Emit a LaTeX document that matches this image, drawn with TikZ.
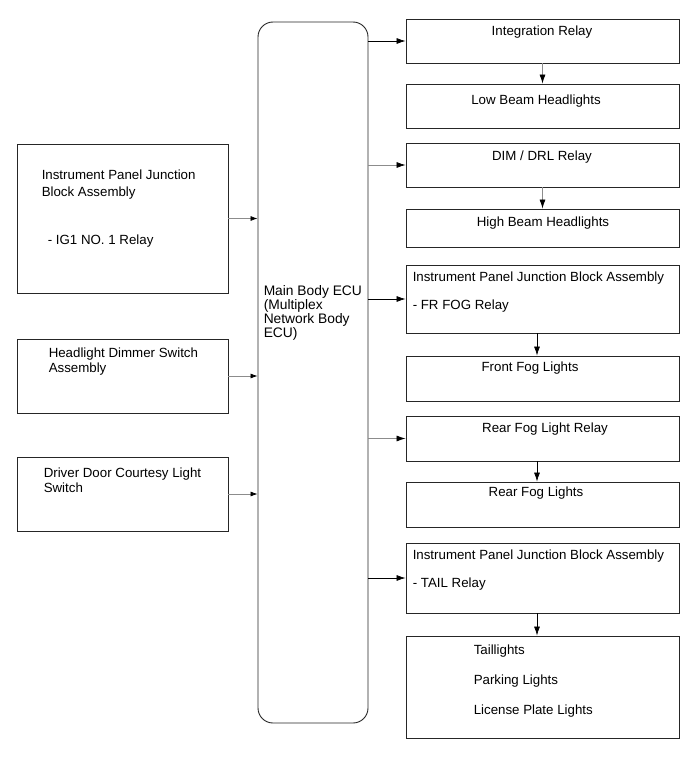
\documentclass[tikz,border=0pt]{standalone}
\usepackage{fontspec}
\setmainfont{Liberation Sans}
\usetikzlibrary{arrows.meta}

\tikzstyle{unit} = [rectangle, draw=black!85, line width=0.9pt, inner sep=0pt]
\tikzstyle{ecu} = [unit, rounded corners=15pt]
\tikzstyle{label} = [inner sep=0pt, align=left, font=\fontsize{13.3}{15}\selectfont]
\tikzstyle{arrow} = [line width=0.7pt, draw=black, -{Latex[length=9pt,width=6pt]}]
\tikzstyle{greyarrow} = [line width=0.7pt, draw=black!45, -{Latex[length=9pt,width=6pt,color=black]}]
\tikzstyle{inarrow} = [line width=0.7pt, draw=black!45, -{Latex[length=7pt,width=5pt,color=black]}]

\begin{document}
\begin{tikzpicture}[x=1pt,y=-1pt]

\useasboundingbox (0,0) rectangle (691,757);

	%Central control unit
	\node[ecu, minimum width=110, minimum height=701](ECU) at (313,372.5) {};

	%Inputs on the left
	\node[unit, minimum width=211, minimum height=149](IPJB) at (122.5,218.5) {};
	\node[unit, minimum width=211, minimum height=74](Dimmer) at (122.5,376) {};
	\node[unit, minimum width=211, minimum height=74](Courtesy) at (122.5,494) {};

	%Outputs on the right
	\node[unit, minimum width=273, minimum height=44](IntRelay) at (542.5,41) {};
	\node[unit, minimum width=273, minimum height=44](LowBeam) at (542.5,106) {};
	\node[unit, minimum width=273, minimum height=44](DimRelay) at (542.5,165) {};
	\node[unit, minimum width=273, minimum height=38](HighBeam) at (542.5,228) {};
	\node[unit, minimum width=273, minimum height=68](FogRelay) at (542.5,299) {};
	\node[unit, minimum width=273, minimum height=45](FrontFog) at (542.5,378.5) {};
	\node[unit, minimum width=273, minimum height=45](RearRelay) at (542.5,438.5) {};
	\node[unit, minimum width=273, minimum height=45](RearFog) at (542.5,504.5) {};
	\node[unit, minimum width=273, minimum height=70](TailRelay) at (542.5,578) {};
	\node[unit, minimum width=273, minimum height=102](Tail) at (542.5,687) {};

	%Texts (base anchor sits on the last line)
	\node[label, anchor=base west, font=\fontsize{13.8}{12.7}\selectfont](ECU_txt) at ([xshift=6,yshift=-316]ECU.north west) {Main Body ECU\\(Multiplex\\Network Body\\ECU)};
	\node[label, anchor=base west, font=\fontsize{13.3}{17}\selectfont](IPJB_txt) at ([xshift=25,yshift=-100.5]IPJB.north west) {Instrument Panel Junction\\Block Assembly\\[31pt]\hspace{6pt}- IG1 NO. 1 Relay};
	\node[label, anchor=base west](Dimmer_txt) at ([xshift=32,yshift=-33.5]Dimmer.north west) {Headlight Dimmer Switch\\Assembly};
	\node[label, anchor=base west](Courtesy_txt) at ([xshift=27,yshift=-35.5]Courtesy.north west) {Driver Door Courtesy Light\\Switch};

	\node[label, anchor=base](IntRelay_txt) at ([xshift=-0.5,yshift=-16.5]IntRelay.north) {Integration Relay};
	\node[label, anchor=base](LowBeam_txt) at ([xshift=-6.5,yshift=-20.5]LowBeam.north) {Low Beam Headlights};
	\node[label, anchor=base](DimRelay_txt) at ([xshift=-0.5,yshift=-17.5]DimRelay.north) {DIM / DRL Relay};
	\node[label, anchor=base](HighBeam_txt) at ([xshift=0.5,yshift=-17.5]HighBeam.north) {High Beam Headlights};
	\node[label, anchor=base west, font=\fontsize{13.3}{28}\selectfont](FogRelay_txt) at ([xshift=7,yshift=-44.5]FogRelay.north west) {Instrument Panel Junction Block Assembly\\- FR FOG Relay};
	\node[label, anchor=base](FrontFog_txt) at ([xshift=-12.5,yshift=-15.5]FrontFog.north) {Front Fog Lights};
	\node[label, anchor=base](RearRelay_txt) at ([xshift=2.5,yshift=-16.5]RearRelay.north) {Rear Fog Light Relay};
	\node[label, anchor=base](RearFog_txt) at ([xshift=-6.5,yshift=-14.5]RearFog.north) {Rear Fog Lights};
	\node[label, anchor=base west, font=\fontsize{13.3}{28.5}\selectfont](TailRelay_txt) at ([xshift=7,yshift=-45]TailRelay.north west) {Instrument Panel Junction Block Assembly\\- TAIL Relay};
	\node[label, anchor=base west, font=\fontsize{13.3}{30}\selectfont](Tail_txt) at ([xshift=68,yshift=-78.5]Tail.north west) {Taillights\\Parking Lights\\License Plate Lights};

	%Inputs into the ECU
	\path[inarrow] (IPJB.east) -- (IPJB.east -| ECU.west);
	\path[inarrow] (Dimmer.east) -- (Dimmer.east -| ECU.west);
	\path[inarrow] (Courtesy.east) -- (Courtesy.east -| ECU.west);

	%Outputs of the ECU
	\path[arrow] (ECU.east |- IntRelay.west) -- (IntRelay.west);
	\path[greyarrow] (ECU.east |- DimRelay.west) -- (DimRelay.west);
	\path[arrow] (ECU.east |- FogRelay.west) -- (FogRelay.west);
	\path[greyarrow] (ECU.east |- RearRelay.west) -- (RearRelay.west);
	\path[arrow] (ECU.east |- TailRelay.west) -- (TailRelay.west);

	%Relays to lights
	\path[greyarrow] (IntRelay.south) -- (LowBeam.north);
	\path[greyarrow] (DimRelay.south) -- (HighBeam.north);
	\path[arrow] ([xshift=-5.5]FogRelay.south) -- ([xshift=-5.5]FrontFog.north);
	\path[arrow] ([xshift=-5.5]RearRelay.south) -- ([xshift=-5.5]RearFog.north);
	\path[arrow] ([xshift=-5.5]TailRelay.south) -- ([xshift=-5.5]Tail.north);

\end{tikzpicture}
\end{document}
